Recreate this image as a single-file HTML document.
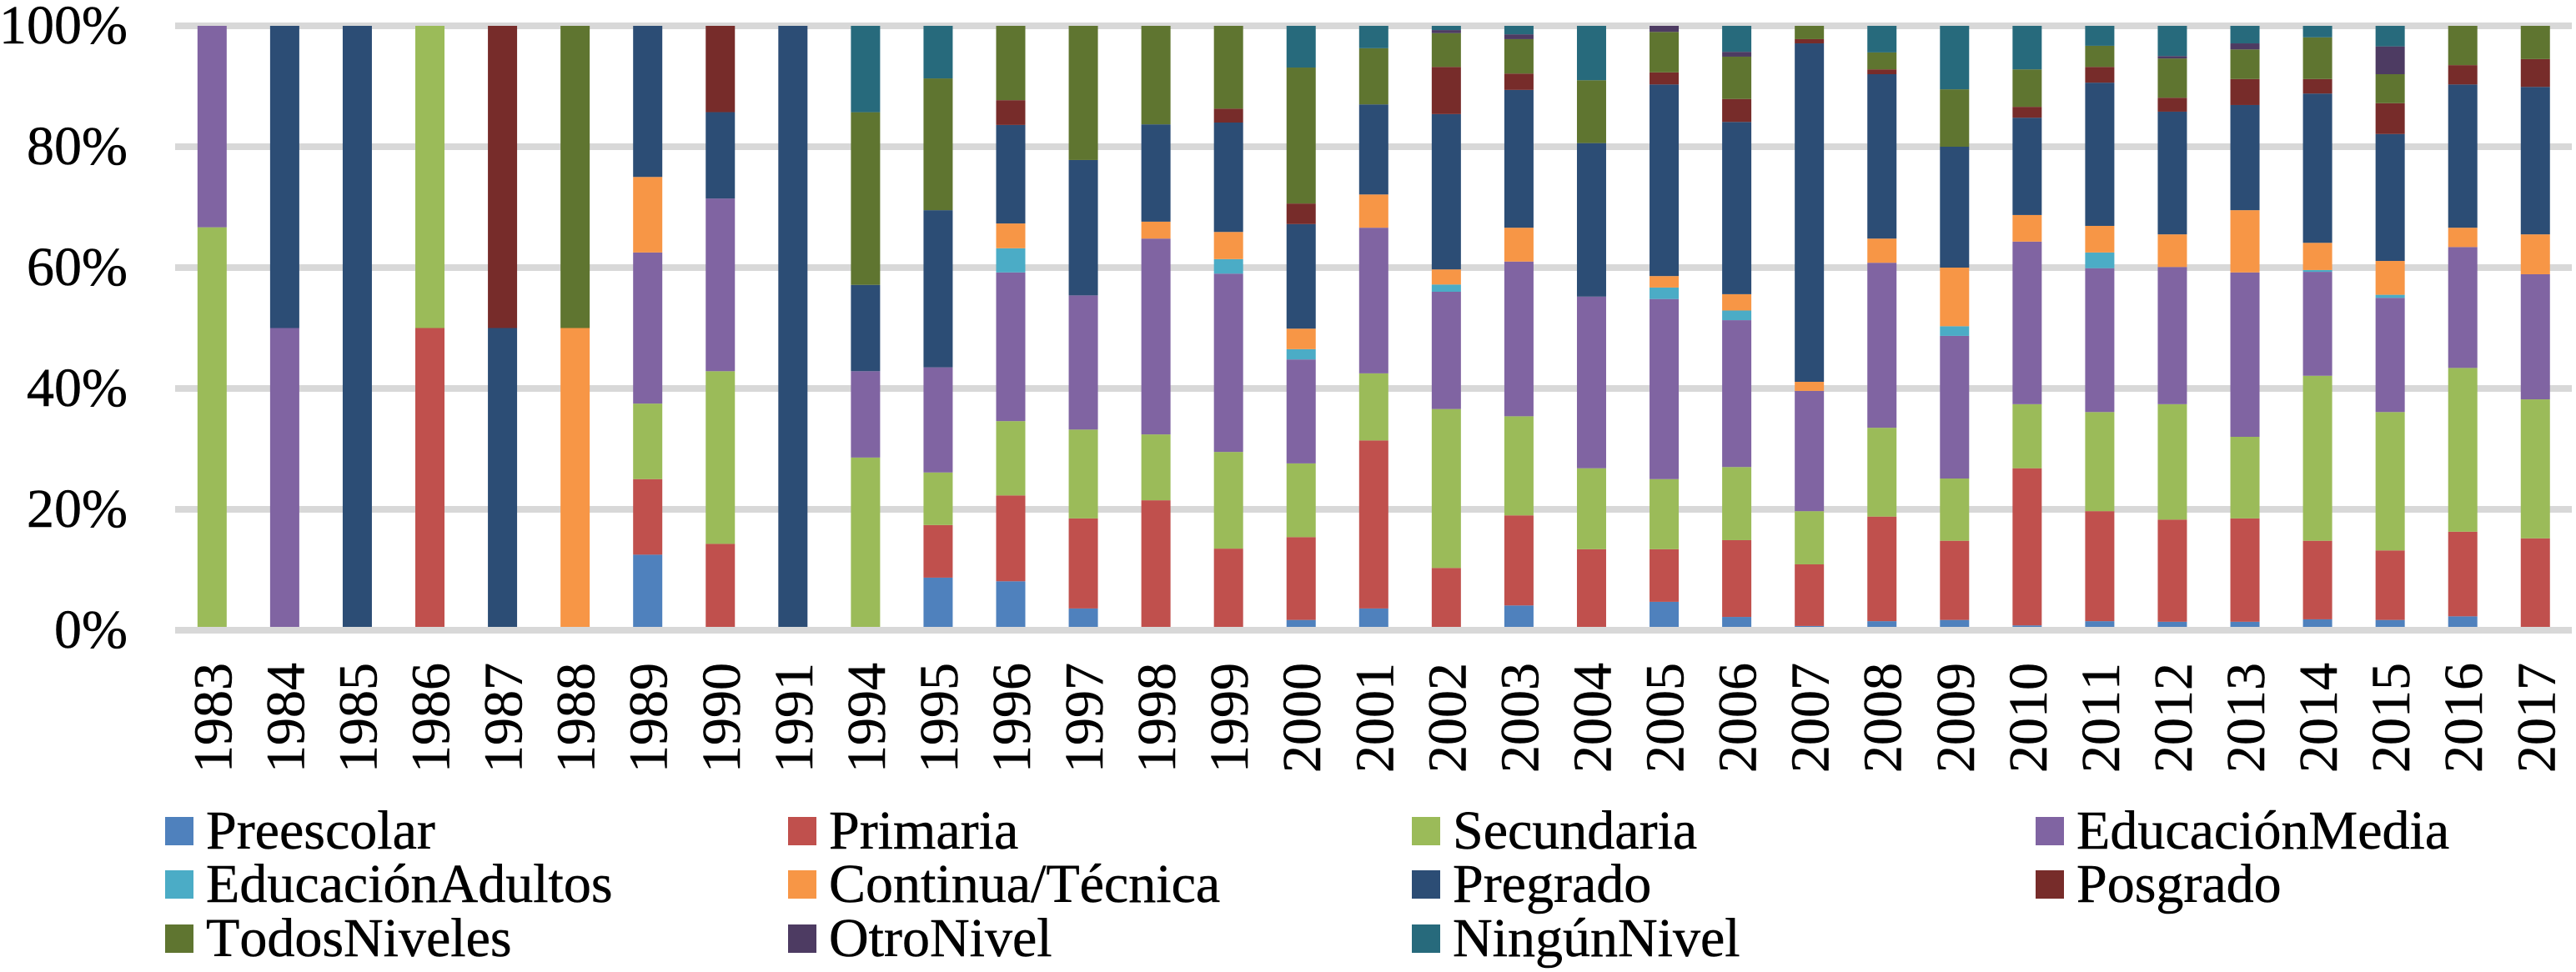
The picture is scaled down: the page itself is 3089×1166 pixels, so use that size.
<!DOCTYPE html>
<html lang="es">
<head>
<meta charset="utf-8">
<title>Gráfico de barras apiladas por nivel educativo</title>
<style>
  html, body { margin: 0; padding: 0; background: #fff; }
  body { width: 3089px; height: 1166px; overflow: hidden; }
  svg { display: block; }
  text { font-family: "Liberation Serif", "Times New Roman", serif; font-size: 66px; fill: #000; stroke: #000; stroke-width: 0.5px; font-kerning: none; font-variant-ligatures: none; }
</style>
</head>
<body>
<svg id="chart" xmlns="http://www.w3.org/2000/svg" width="3089" height="1166" viewBox="0 0 3089 1166">
  <rect x="0" y="0" width="3089" height="1166" fill="#ffffff"></rect>
  <g id="grid"></g>
  <g id="bars"></g>
  <g id="baseline"></g>
  <g id="yticks"></g>
  <g id="xticks"></g>
  <g id="legend"></g>
</svg>
<script>
var categories = ['1983','1984','1985','1986','1987','1988','1989','1990','1991','1994','1995','1996','1997','1998','1999','2000','2001','2002','2003','2004','2005','2006','2007','2008','2009','2010','2011','2012','2013','2014','2015','2016','2017'];
var yTickValues = [0, 20, 40, 60, 80, 100];
var seriesNames = ['Preescolar','Primaria','Secundaria','EducaciónMedia','EducaciónAdultos','Continua/Técnica','Pregrado','Posgrado','TodosNiveles','OtroNivel','NingúnNivel'];

var preescolar = [0,0,0,0,0,0,12.5,0,0,0,8.7,8.1,3.6,0,0,1.7,3.6,0.5,4.1,0,4.7,2.2,0.7,1.5,1.7,0.8,1.5,1.4,1.4,1.8,1.7,2.3,0.5];
var primaria = [0,0,0,50,0,0,12.5,14.29,0,0,8.7,14.2,14.9,21.5,13.5,13.7,27.8,9.8,14.9,13.4,8.7,12.7,10.2,17.3,13.1,26,18.2,16.9,17.1,13,11.5,14,14.7];
var secundaria = [66.67,0,0,50,0,0,12.5,28.57,0,28.57,8.7,12.3,14.7,10.9,16,12.2,11.1,26.3,16.4,13.4,11.6,12.1,8.8,14.7,10.3,10.6,16.4,19.1,13.5,27.3,22.9,27.1,23];
var educacionMedia = [33.33,50,0,0,0,0,25,28.57,0,14.29,17.4,24.6,22.2,32.4,29.5,17.2,24.1,19.4,25.6,28.4,29.8,24.3,19.9,27.3,23.6,26.9,23.8,22.7,27.2,17.2,18.9,20,20.7];
var educacionAdultos = [0,0,0,0,0,0,0,0,0,0,0,4,0,0,2.4,1.7,0,1.2,0,0,1.9,1.6,0,0,1.6,0,2.6,0,0,0.3,0.5,0,0];
var continuaTecnica = [0,0,0,0,0,50,12.5,0,0,0,0,4.1,0,2.8,4.5,3.4,5.5,2.5,5.6,0,1.9,2.7,1.5,4,9.7,4.4,4.4,5.4,10.3,4.5,5.6,3.2,6.6];
var pregrado = [0,50,100,0,50,0,25,14.29,100,14.28,26,16.3,22.4,16.1,18.1,17.3,14.9,25.7,22.8,25.4,31.7,28.5,56,27.2,20,16.1,23.7,20.3,17.4,24.7,21,23.7,24.4];
var posgrado = [0,0,0,0,50,0,0,14.28,0,0,0,4.1,0,0,2.3,3.4,0,7.8,2.7,0,2,3.8,0.7,0.8,0,1.8,2.6,2.3,4.3,2.4,5.1,3.2,4.6];
var todosNiveles = [0,0,0,0,0,50,0,0,0,28.57,21.8,12.3,22.2,16.3,13.7,22.5,9.3,5.6,5.7,10.4,6.7,7,2.2,2.8,9.5,6.2,3.5,6.5,4.9,6.9,4.8,6.5,5.5];
var otroNivel = [0,0,0,0,0,0,0,0,0,0,0,0,0,0,0,0,0,0.5,0.8,0,1,0.8,0,0,0,0,0,0.4,1,0,4.6,0,0];
var ningunNivel = [0,0,0,0,0,0,0,0,0,14.29,8.7,0,0,0,0,6.9,3.7,0.7,1.4,9,0,4.3,0,4.4,10.5,7.2,3.3,5,2.9,1.9,3.4,0,0];

var seriesValues = [preescolar, primaria, secundaria, educacionMedia, educacionAdultos, continuaTecnica, pregrado, posgrado, todosNiveles, otroNivel, ningunNivel];
var seriesColors = ['#4F81BD','#C0504D','#9BBB59','#8064A2','#4BACC6','#F79646','#2C4D75','#772C2A','#5F7530','#4D3B62','#276A7C'];

var NS = 'http://www.w3.org/2000/svg';
var plotLeft = 210.8;
var plotRight = 3083.8;
var plotTop = 31;
var plotBottom = 756;
var barWidth = 35;

function xBand() {
  return (plotRight - plotLeft) / categories.length;
}
function xCenter(i) {
  return plotLeft + xBand() * (i + 0.5);
}
function yPos(v) {
  return plotBottom - (plotBottom - plotTop) * v / 100;
}
function make(tag) {
  return document.createElementNS(NS, tag);
}

var gridG = document.getElementById('grid');
var barsG = document.getElementById('bars');
var baseG = document.getElementById('baseline');
var yG = document.getElementById('yticks');
var xG = document.getElementById('xticks');
var legendG = document.getElementById('legend');

yTickValues.forEach(function (t) {
  var line = make('rect');
  
  
  line.setAttribute('x', 210);
  line.setAttribute('y', yPos(t) - 4);
  line.setAttribute('width', 2874);
  line.setAttribute('height', 8);
  line.setAttribute('fill', '#D8D8D8');
  (t === 0 ? baseG : gridG).appendChild(line);

  var label = make('text');
  
  
  label.setAttribute('x', 153);
  label.setAttribute('y', yPos(t) + 21);
  label.setAttribute('text-anchor', 'end');
  label.textContent = t + '%';
  yG.appendChild(label);
});

categories.forEach(function (year, i) {
  var total = 0;
  seriesValues.forEach(function (vals, s) {
    var v = vals[i];
    if (v <= 0) { return; }
    var top = yPos(total + v);
    var bottom = yPos(total);
    var seg = make('rect');
    
    
    seg.setAttribute('x', xCenter(i) - barWidth / 2);
    seg.setAttribute('y', top);
    seg.setAttribute('width', barWidth);
    seg.setAttribute('height', bottom - top);
    seg.setAttribute('fill', seriesColors[s]);
    barsG.appendChild(seg);
    total += v;
  });

  var tick = make('text');
  
  
  tick.setAttribute('transform', 'translate(' + (xCenter(i) + 23) + ',927) rotate(-90)');
  tick.textContent = year;
  xG.appendChild(tick);
});

var legendColumns = [198, 945, 1693, 2441];
var legendRows = [980, 1044, 1109];
seriesNames.forEach(function (name, s) {
  var cx = legendColumns[s % 4];
  var cy = legendRows[Math.floor(s / 4)];
  var swatch = make('rect');
  
  
  swatch.setAttribute('x', cx);
  swatch.setAttribute('y', cy);
  swatch.setAttribute('width', 34);
  swatch.setAttribute('height', 34);
  swatch.setAttribute('fill', seriesColors[s]);
  legendG.appendChild(swatch);

  var entry = make('text');
  
  
  entry.setAttribute('x', cx + 49);
  entry.setAttribute('y', cy + 38);
  entry.textContent = name;
  legendG.appendChild(entry);
});
</script>
</body>
</html>
